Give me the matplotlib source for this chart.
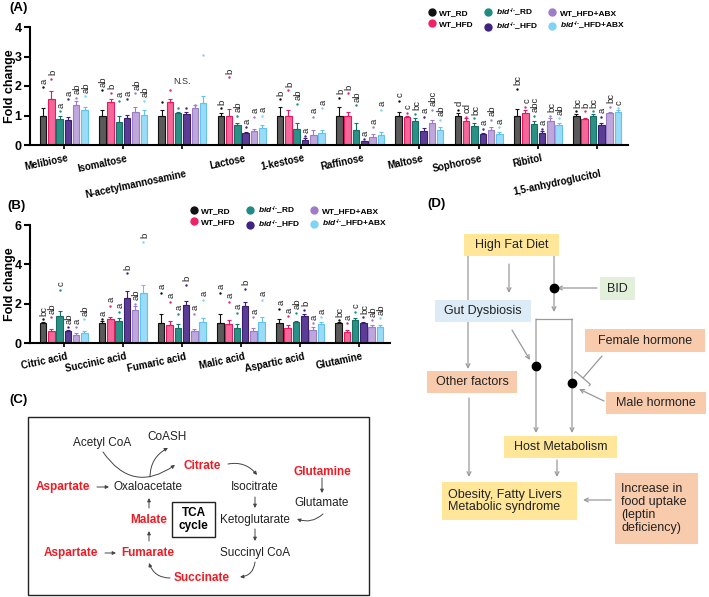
import numpy as np
import matplotlib.pyplot as plt
from matplotlib.patches import Rectangle, FancyArrowPatch
from matplotlib.lines import Line2D

plt.rcParams['font.family'] = ['Liberation Sans', 'DejaVu Sans']
plt.rcParams['mathtext.fontset'] = 'custom'
plt.rcParams['mathtext.it'] = 'Liberation Sans:italic:bold'
plt.rcParams['mathtext.rm'] = 'Liberation Sans:bold'

# groups
groups = ['WT_RD', 'WT_HFD', r'$\it{bid}^{\text{-/-}}$_RD', r'$\it{bid}^{\text{-/-}}$_HFD',
          'WT_HFD+ABX', r'$\it{bid}^{\text{-/-}}$_HFD+ABX']
dot_col = ['#111111', '#EE2266', '#1E8C80', '#3F2380', '#9E7CC8', '#7FD3F5']
face_col = ['#5a5a5a', '#F4679A', '#2B9186', '#5B3D96', '#BFA7DC', '#9ADCF7']
edge_col = ['#111111', '#E8185E', '#156F65', '#3A1F70', '#9B7DC8', '#62C3EE']

# panel A
sugars = ['Melibiose', 'Isomaltose', 'N-acetylmannosamine', 'Lactose', '1-kestose',
          'Raffinose', 'Maltose', 'Sophorose', 'Ribitol', '1,5-anhydroglucitol']
sugar_mean = np.array([
    [1.00, 1.55, 0.88, 0.85, 1.37, 1.18],
    [1.00, 1.47, 0.78, 0.90, 1.12, 1.03],
    [1.00, 1.45, 1.07, 1.05, 1.26, 1.43],
    [1.00, 1.00, 0.67, 0.40, 0.47, 0.57],
    [1.00, 0.98, 0.53, 0.18, 0.35, 0.40],
    [1.00, 0.97, 0.52, 0.12, 0.27, 0.35],
    [1.00, 0.95, 0.80, 0.47, 0.73, 0.52],
    [1.00, 0.83, 0.65, 0.37, 0.50, 0.38],
    [1.00, 1.08, 0.71, 0.40, 0.82, 0.68],
    [1.00, 0.88, 1.00, 0.68, 1.07, 1.13]])
sugar_err = np.array([
    [0.27, 0.27, 0.12, 0.10, 0.12, 0.12],
    [0.20, 0.10, 0.20, 0.12, 0.18, 0.15],
    [0.20, 0.10, 0.05, 0.07, 0.08, 0.22],
    [0.08, 0.22, 0.07, 0.05, 0.08, 0.10],
    [0.28, 0.20, 0.23, 0.05, 0.15, 0.12],
    [0.30, 0.15, 0.22, 0.03, 0.10, 0.10],
    [0.12, 0.05, 0.10, 0.10, 0.12, 0.10],
    [0.10, 0.08, 0.08, 0.05, 0.10, 0.07],
    [0.22, 0.10, 0.10, 0.07, 0.08, 0.07],
    [0.05, 0.05, 0.05, 0.05, 0.05, 0.05]])
sugar_max = np.array([
    [1.95, 2.25, 1.15, 1.55, 1.60, 1.65],
    [1.86, 1.77, 1.50, 1.55, 1.75, 1.50],
    [1.45, 1.85, 1.25, 1.25, 1.35, 3.05],
    [1.25, 2.30, 1.00, 0.60, 0.95, 1.00],
    [1.55, 1.85, 1.40, 0.30, 0.95, 1.25],
    [1.60, 1.75, 1.35, 0.20, 0.60, 1.20],
    [1.50, 1.10, 1.05, 0.95, 1.20, 0.85],
    [1.20, 0.95, 0.90, 0.55, 0.85, 0.60],
    [1.90, 1.30, 1.00, 0.55, 1.00, 0.90],
    [1.15, 1.15, 1.15, 0.95, 1.30, 1.25]])
sugar_letters = [
    ['a', 'b', 'a', 'a', 'ab', 'ab'],
    ['ab', 'b', 'a', 'a', 'ab', 'ab'],
    ['', '', '', '', '', ''],
    ['b', 'b', 'ab', 'a', 'a', 'a'],
    ['b', 'b', 'ab', 'a', 'a', 'a'],
    ['b', 'b', 'ab', 'a', 'a', 'a'],
    ['c', 'c', 'bc', 'a', 'abc', 'ab'],
    ['d', 'cd', 'bc', 'a', 'ab', 'a'],
    ['bc', 'c', 'abc', 'a', 'bc', 'ab'],
    ['bc', 'b', 'bc', 'a', 'bc', 'c']]

# panel B
acids = ['Citric acid', 'Succinic acid', 'Fumaric acid', 'Malic acid',
         'Aspartic acid', 'Glutamine']
acid_mean = np.array([
    [1.00, 0.63, 1.36, 0.60, 0.40, 0.50],
    [1.00, 1.22, 1.13, 2.27, 1.70, 2.52],
    [1.00, 0.90, 0.78, 1.92, 0.60, 1.08],
    [1.00, 0.95, 0.78, 1.90, 0.62, 1.08],
    [1.00, 0.77, 1.05, 1.37, 0.67, 0.97],
    [1.00, 0.57, 1.17, 1.00, 0.82, 0.80]])
acid_err = np.array([
    [0.08, 0.08, 0.28, 0.08, 0.10, 0.10],
    [0.10, 0.10, 0.12, 0.35, 0.20, 0.45],
    [0.45, 0.20, 0.20, 0.20, 0.12, 0.20],
    [0.45, 0.22, 0.18, 0.20, 0.12, 0.25],
    [0.22, 0.12, 0.08, 0.08, 0.12, 0.10],
    [0.08, 0.10, 0.12, 0.08, 0.08, 0.10]])
acid_max = np.array([
    [1.20, 1.30, 2.70, 0.80, 0.80, 1.20],
    [1.20, 1.90, 1.60, 3.55, 2.00, 5.15],
    [2.55, 2.10, 1.50, 2.95, 1.50, 2.20],
    [2.55, 2.10, 1.55, 2.75, 1.30, 2.20],
    [1.75, 1.35, 1.55, 1.70, 1.00, 1.30],
    [1.15, 1.00, 1.60, 1.30, 1.15, 1.25]])
acid_letters = [
    ['bc', 'ab', 'c', 'ab', 'a', 'ab'],
    ['a', 'a', 'a', 'b', 'ab', 'b'],
    ['a', 'a', 'a', 'b', 'a', 'a'],
    ['a', 'a', 'a', 'b', 'a', 'a'],
    ['a', 'a', 'ab', 'b', 'a', 'a'],
    ['bc', 'a', 'c', 'bc', 'ab', 'ab']]

fig = plt.figure(figsize=(7.09, 5.97), dpi=100)


def bar_panel(ax, names, mean, err, top, letters, ymax, yticks, low, lab_x):
    n = len(names)
    x = np.arange(n)
    offs = (np.arange(6) - 2.5) * 0.14
    for j in range(6):
        ax.bar(x + offs[j], mean[:, j], width=0.11, color=face_col[j],
               edgecolor=edge_col[j], linewidth=0.8, zorder=2)
        ax.errorbar(x + offs[j], mean[:, j], yerr=[np.zeros(n), err[:, j]],
                    fmt='none', ecolor=edge_col[j], elinewidth=0.8, capsize=1.5,
                    capthick=0.8, zorder=3)
        ax.scatter(x + offs[j], top[:, j], s=3, color=dot_col[j], zorder=4, lw=0)
        for i in range(n):
            if letters[i][j]:
                ax.text(x[i] + offs[j] + 0.02, top[i, j] + ymax * 0.03, letters[i][j],
                        rotation=90, ha='center', va='bottom', fontsize=6.8, color='#222')
    ax.set_xlim(-0.57, n - 1 + 0.52)
    ax.set_ylim(0, ymax)
    ax.set_yticks(yticks)
    ax.set_xticks(x)
    ax.set_xticklabels([])
    ax.tick_params(axis='x', length=3, width=1.2)
    ax.tick_params(axis='y', length=4, width=1.5, labelsize=9, pad=2)
    for t in ax.get_yticklabels():
        t.set_fontweight('bold')
    for s in ['top', 'right']:
        ax.spines[s].set_visible(False)
    for s in ['left', 'bottom']:
        ax.spines[s].set_linewidth(1.5)
    ax.set_ylabel('Fold change', fontsize=9, fontweight='bold')
    ax.yaxis.set_label_coords(lab_x, 0.5)
    for i, name in enumerate(names):
        dy = -0.20 if i in low else -0.07
        ax.text(x[i] + 0.05, dy, name, transform=ax.get_xaxis_transform(),
                rotation=12, rotation_mode='anchor', ha='right', va='top',
                fontsize=7, fontweight='bold')
    handles = [Line2D([], [], marker='o', ls='none', color=c, markersize=5) for c in dot_col]
    ax.legend(handles, groups, ncol=3, loc='upper right', bbox_to_anchor=(1.0, 1.2),
              frameon=False, prop={'weight': 'bold', 'size': 6},
              handletextpad=0.2, columnspacing=1.0, labelspacing=0.3, borderaxespad=0,
              handlelength=1.4)


axA = fig.add_axes([30 / 709, 1 - 145 / 597, 598 / 709, 118 / 597])
bar_panel(axA, sugars, sugar_mean, sugar_err, sugar_max, sugar_letters, 4, [0, 1, 2, 3, 4],
          [2, 9], -14 / 598)
axA.text(2, 2.15, 'N.S.', ha='center', va='center', fontsize=6.5, color='#333')

axB = fig.add_axes([30 / 709, 1 - 343 / 597, 360 / 709, 118 / 597])
bar_panel(axB, acids, acid_mean, acid_err, acid_max, acid_letters, 6, [0, 2, 4, 6], [],
          -14 / 360)

# overlay for panels C and D, pixel coordinates
ov = fig.add_axes([0, 0, 1, 1])
ov.set_xlim(0, 709)
ov.set_ylim(597, 0)
ov.axis('off')
ov.patch.set_alpha(0)

for lab, (px, py) in {'(A)': (19, 8), '(B)': (17, 206), '(C)': (18, 400), '(D)': (436, 204)}.items():
    ov.text(px, py, lab, ha='center', va='center', fontsize=9.5, fontweight='bold')

# panel C
ov.add_patch(Rectangle((28, 417), 341, 178, fill=False, lw=1.0, ec='#222'))
black_txt = {'Acetyl CoA': (102, 443), 'CoASH': (167, 437), 'Oxaloacetate': (148, 487),
             'Isocitrate': (255, 487), 'Glutamate': (322, 503), 'Ketoglutarate': (255, 520),
             'Succinyl CoA': (255, 553)}
red_txt = {'Citrate': (202, 466), 'Glutamine': (322, 472), 'Aspartate ': (63, 487),
           'Malate': (149, 520), 'Aspartate': (71, 553), 'Fumarate': (148, 553),
           'Succinate': (202, 578)}
for t, (px, py) in black_txt.items():
    ov.text(px, py, t, ha='center', va='center', fontsize=8.5, color='#222')
for t, (px, py) in red_txt.items():
    ov.text(px, py, t.strip(), ha='center', va='center', fontsize=8.5, color='#EE1C25',
            fontweight='bold')
ov.add_patch(Rectangle((172, 502), 43, 35, fill=False, lw=1.0, ec='#222'))
ov.text(193.5, 519.5, 'TCA\ncycle', ha='center', va='center', fontsize=8.5,
        fontweight='bold', linespacing=1.1)


def carrow(p0, p1, rad=0.0, style='-|>', color='#444', lw=0.7, ms=5):
    ov.add_patch(FancyArrowPatch(p0, p1, arrowstyle=style, mutation_scale=ms,
                                 connectionstyle=f'arc3,rad={rad}', color=color, lw=lw,
                                 shrinkA=0, shrinkB=0))


carrow((97, 487), (109, 487))
carrow((105, 553), (116, 553))
carrow((149, 508), (149, 498))
carrow((149, 541), (149, 531))
carrow((255, 497), (255, 508))
carrow((255, 529), (255, 541))
carrow((322, 478), (322, 493))
carrow((323, 514), (297, 519), rad=-0.3)
carrow((255, 562), (240, 577), rad=-0.4)
carrow((170, 578), (149, 563), rad=-0.35)
carrow((228, 464), (257, 475), rad=-0.3)
carrow((103, 452), (175, 465), rad=0.5)
carrow((150, 477), (168, 448), rad=-0.3)

# panel D
gray = '#999999'
boxes = [('High Fat Diet', 464, 234, 95, 22, '#FFE699'),
         ('BID', 600, 277, 35, 23, '#E2EFDA'),
         ('Gut Dysbiosis', 435, 300, 96, 22, '#DDEBF7'),
         ('Female hormone', 585, 329, 120, 23, '#F8CBAD'),
         ('Other factors', 427, 371, 90, 22, '#F8CBAD'),
         ('Male hormone', 606, 392, 100, 22, '#F8CBAD'),
         ('Host Metabolism', 504, 436, 113, 22, '#FFE699')]
for t, bx, by, bw, bh, c in boxes:
    ov.add_patch(Rectangle((bx, by), bw, bh, fc=c, ec='none', zorder=3))
    ov.text(bx + bw / 2, by + bh / 2, t, ha='center', va='center', fontsize=9,
            color='#222', zorder=4)
ov.add_patch(Rectangle((442, 482), 135, 38, fc='#FFE699', ec='none', zorder=3))
ov.text(448, 501, 'Obesity, Fatty Livers\nMetabolic syndrome', ha='left', va='center',
        fontsize=9, color='#222', linespacing=1.1, zorder=4)
ov.add_patch(Rectangle((615, 473), 83, 71, fc='#F8CBAD', ec='none', zorder=3))
ov.text(621, 508.5, 'Increase in\nfood uptake\n(leptin\ndeficiency)', ha='left',
        va='center', fontsize=9, color='#222', linespacing=1.1, zorder=4)


def darrow(p0, p1, style='->'):
    ov.add_patch(FancyArrowPatch(p0, p1, arrowstyle=style, mutation_scale=7,
                                 color=gray, lw=0.9, shrinkA=0, shrinkB=0, zorder=2))


darrow((468, 256), (468, 369))
darrow((509, 264), (509, 293))
darrow((554, 256), (554, 312))
ov.plot([536, 572], [319, 319], color=gray, lw=0.9)
darrow((536, 319), (536, 433))
darrow((572, 319), (572, 433))
darrow((597, 288), (557, 288))
darrow((512, 330), (530, 360))
darrow((604, 401), (579, 389))
darrow((602, 356), (583, 378), style='-[')
darrow((469, 398), (469, 477))
darrow((557, 460), (557, 477))
darrow((611, 500), (583, 500))
for px, py in [(554, 288), (536, 366), (572, 383)]:
    ov.plot(px, py, 'o', color='black', markersize=6, zorder=5)

fig.savefig('out.png', dpi=100)
